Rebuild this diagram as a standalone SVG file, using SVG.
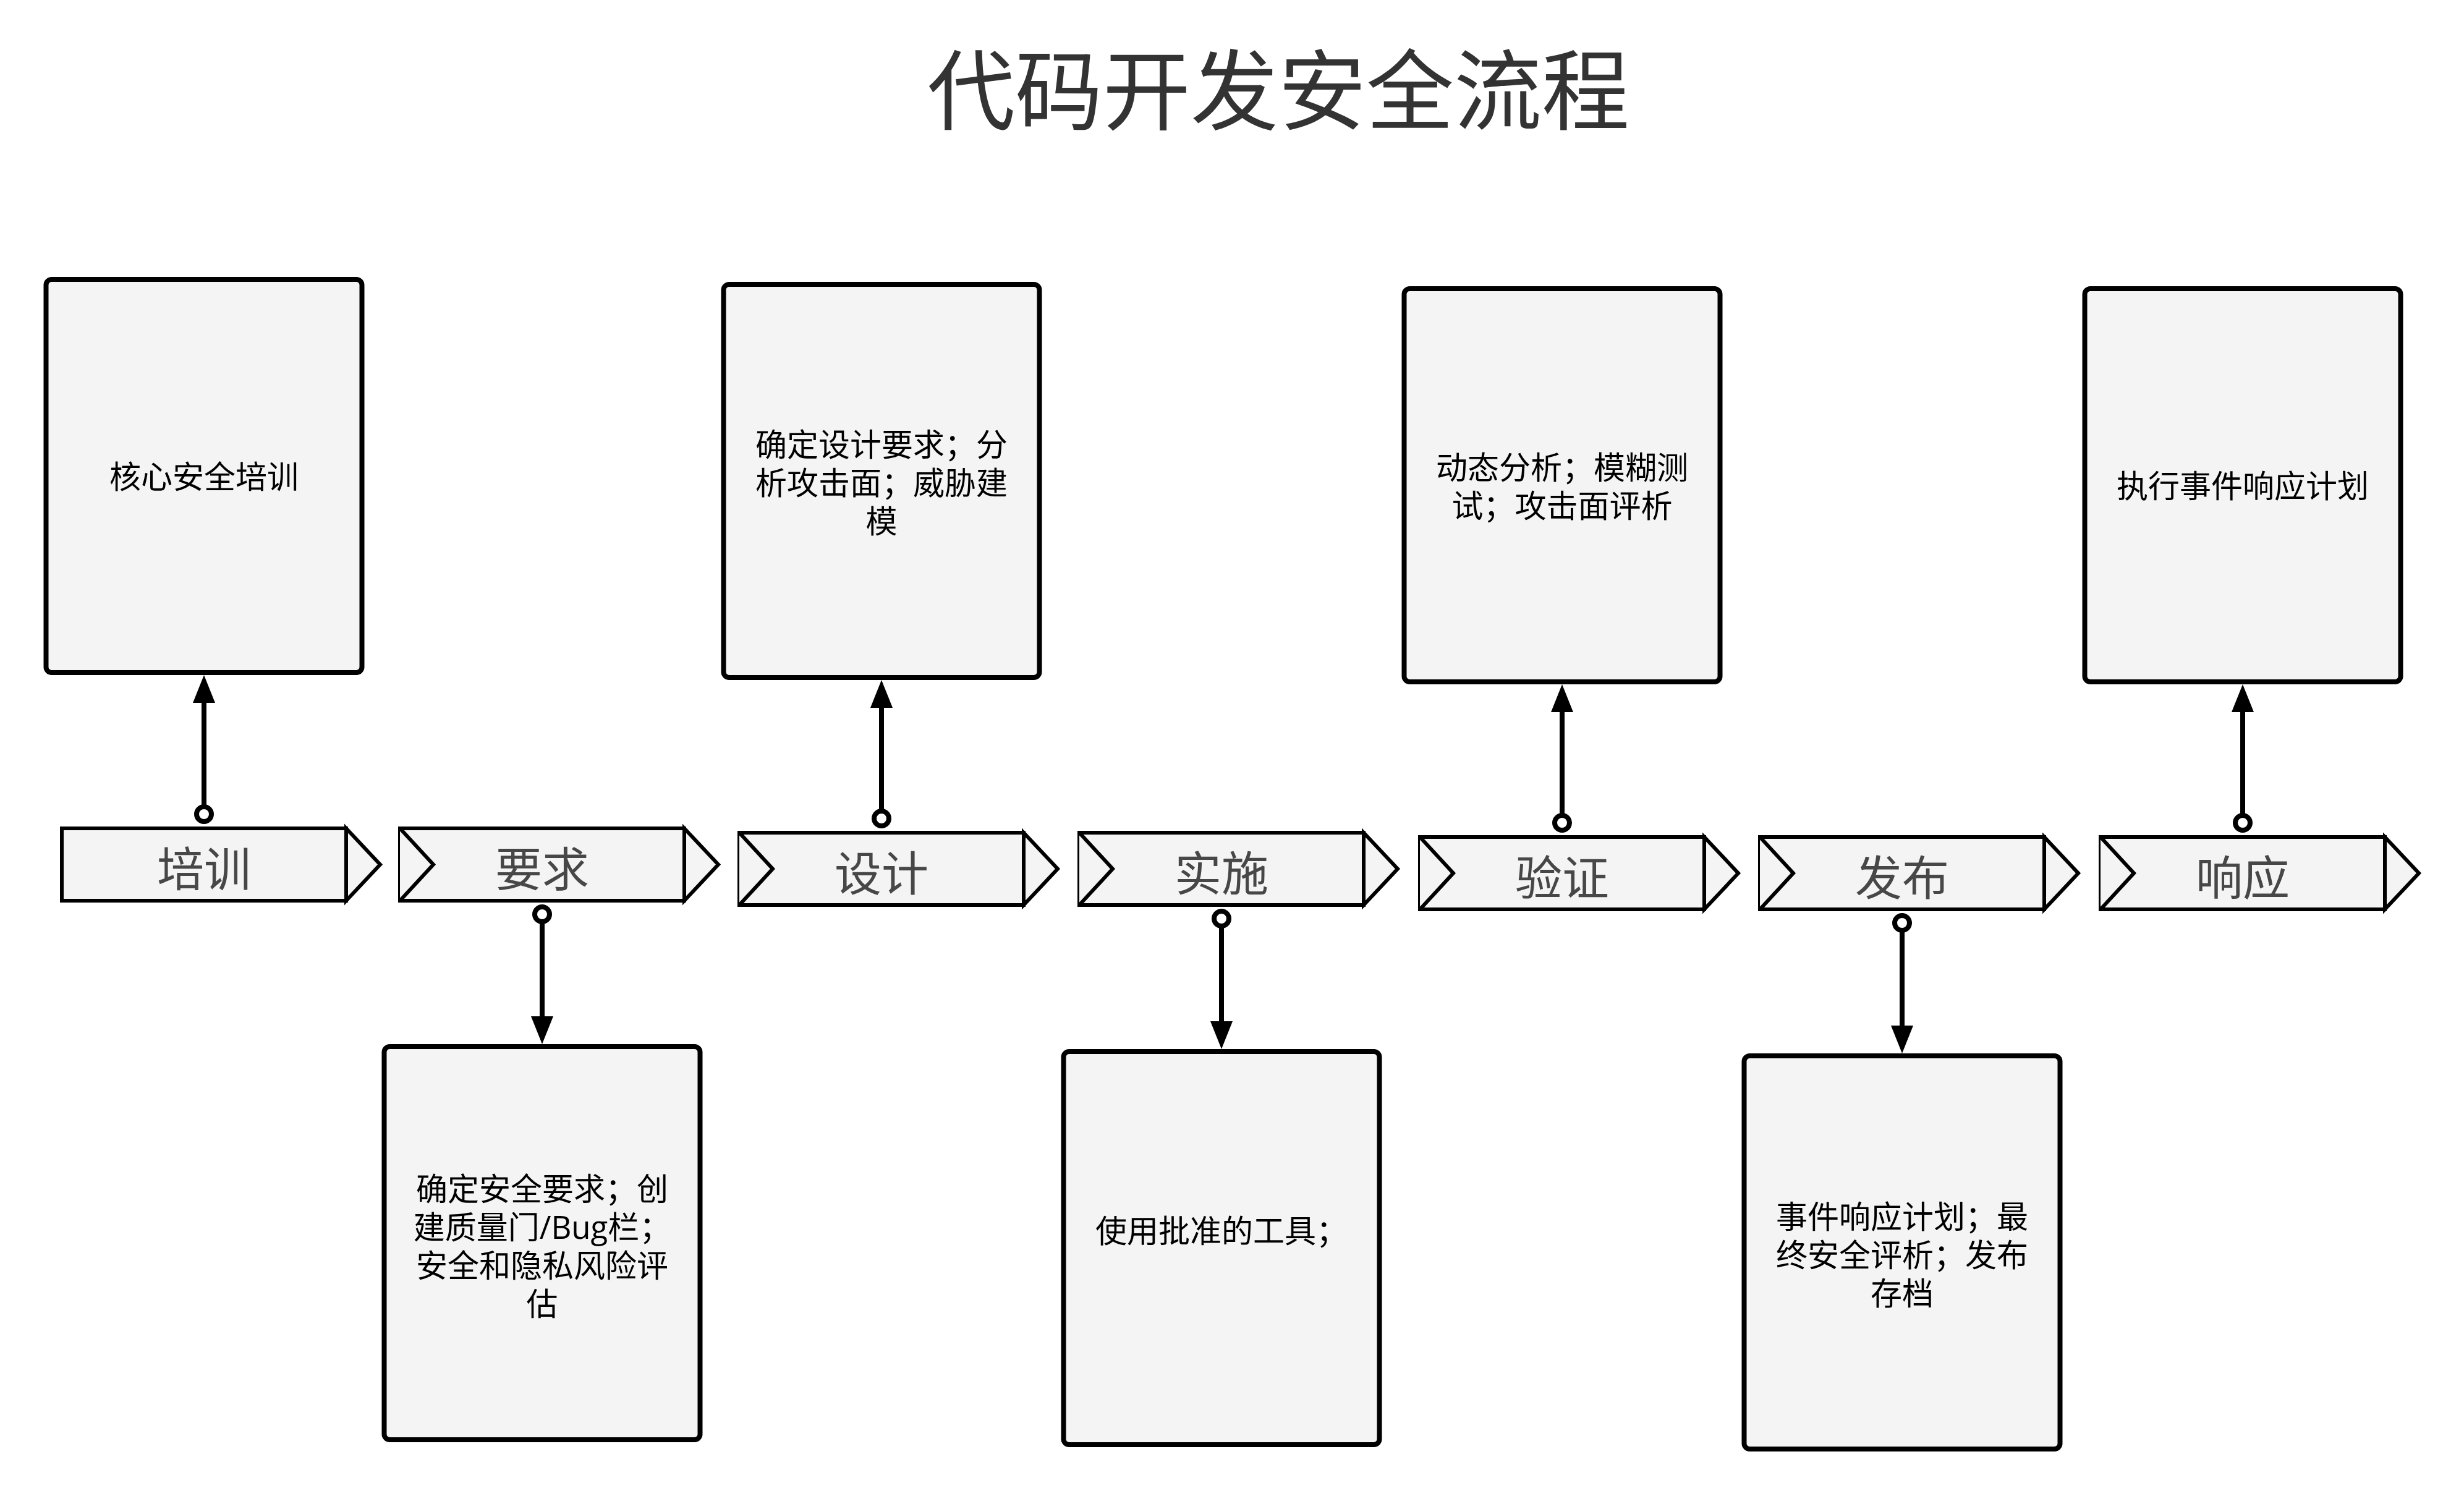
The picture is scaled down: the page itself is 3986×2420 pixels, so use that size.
<svg xmlns="http://www.w3.org/2000/svg" width="3986" height="2420" viewBox="0 0 3986 2420">
<style>
.title{font-family:"Noto Sans CJK SC","Noto Sans",sans-serif;font-size:142px;fill:#333333;text-anchor:middle;dominant-baseline:central}
.box{fill:#f4f4f4;stroke:#000;stroke-width:8}
.btxt{font-family:"Open Sans","Noto Sans CJK SC",sans-serif;font-size:51px;fill:#000;text-anchor:middle;dominant-baseline:central}
.chev{fill:#f4f4f4;stroke:#000;stroke-width:6;stroke-linejoin:miter}
.ctxt{font-family:"Noto Sans CJK SC","Noto Sans",sans-serif;font-size:76px;font-weight:400;fill:#474747;text-anchor:middle;dominant-baseline:central}
.conn{stroke:#000;stroke-width:8;fill:none;marker-start:url(#dot);marker-end:url(#arrow)}
</style>
<defs>
<marker id="arrow" viewBox="0 0 45 36" refX="0" refY="18" markerWidth="45" markerHeight="36" markerUnits="userSpaceOnUse" orient="auto"><path d="M0,0 L45,18 L0,36 Z" fill="#000"/></marker>
<marker id="dot" viewBox="-18 -18 36 36" refX="0" refY="0" markerWidth="36" markerHeight="36" markerUnits="userSpaceOnUse" orient="auto"><circle r="12" fill="#fff" stroke="#000" stroke-width="8"/></marker>
</defs>
<rect width="3986" height="2420" fill="#fff"/>
<text class="title" x="2068" y="137">代码开发安全流程</text>

<g id="connectors">
<path class="conn" d="M330,1317 V1137"/>
<path class="conn" d="M877,1479 V1644"/>
<path class="conn" d="M1426,1324 V1145"/>
<path class="conn" d="M1976,1486 V1652"/>
<path class="conn" d="M2527,1331 V1152"/>
<path class="conn" d="M3077,1493 V1659"/>
<path class="conn" d="M3628,1331 V1152"/>
</g>

<g id="step-peixun">
<rect class="chev" x="100" y="1340" width="460" height="117"/>
<path class="chev" d="M560,1340 L615,1398.5 L560,1457 Z"/>
<text class="ctxt" x="330" y="1401">培训</text>
</g>
<g id="step-yaoqiu">
<rect class="chev" x="647" y="1340" width="460" height="117"/>
<path class="chev" d="M647,1340 L701,1398.5 L647,1457"/>
<path class="chev" d="M1107,1340 L1162,1398.5 L1107,1457 Z"/>
<text class="ctxt" x="877" y="1401">要求</text>
</g>
<g id="step-sheji">
<rect class="chev" x="1196" y="1347" width="460" height="117"/>
<path class="chev" d="M1196,1347 L1250,1405.5 L1196,1464"/>
<path class="chev" d="M1656,1347 L1711,1405.5 L1656,1464 Z"/>
<text class="ctxt" x="1426" y="1408">设计</text>
</g>
<g id="step-shishi">
<rect class="chev" x="1746" y="1347" width="460" height="117"/>
<path class="chev" d="M1746,1347 L1800,1405.5 L1746,1464"/>
<path class="chev" d="M2206,1347 L2261,1405.5 L2206,1464 Z"/>
<text class="ctxt" x="1976" y="1408">实施</text>
</g>
<g id="step-yanzheng">
<rect class="chev" x="2297" y="1354" width="460" height="117"/>
<path class="chev" d="M2297,1354 L2351,1412.5 L2297,1471"/>
<path class="chev" d="M2757,1354 L2812,1412.5 L2757,1471 Z"/>
<text class="ctxt" x="2527" y="1415">验证</text>
</g>
<g id="step-fabu">
<rect class="chev" x="2847" y="1354" width="460" height="117"/>
<path class="chev" d="M2847,1354 L2901,1412.5 L2847,1471"/>
<path class="chev" d="M3307,1354 L3362,1412.5 L3307,1471 Z"/>
<text class="ctxt" x="3077" y="1415">发布</text>
</g>
<g id="step-xiangying">
<rect class="chev" x="3398" y="1354" width="460" height="117"/>
<path class="chev" d="M3398,1354 L3452,1412.5 L3398,1471"/>
<path class="chev" d="M3858,1354 L3913,1412.5 L3858,1471 Z"/>
<text class="ctxt" x="3628" y="1415">响应</text>
</g>

<g id="box-peixun">
<rect class="box" x="74.5" y="452" width="511" height="636" rx="9"/>
<text class="btxt" x="330" y="770">核心安全培训</text>
</g>
<g id="box-yaoqiu">
<rect class="box" x="621.5" y="1693" width="511" height="636" rx="9"/>
<text class="btxt" x="877" y="1922">确定安全要求；创</text>
<text class="btxt" x="877" y="1984">建质量门/Bug栏；</text>
<text class="btxt" x="877" y="2046">安全和隐私风险评</text>
<text class="btxt" x="877" y="2108">估</text>
</g>
<g id="box-sheji">
<rect class="box" x="1170.5" y="460" width="511" height="636" rx="9"/>
<text class="btxt" x="1426" y="718">确定设计要求；分</text>
<text class="btxt" x="1426" y="780">析攻击面；威胁建</text>
<text class="btxt" x="1426" y="842">模</text>
</g>
<g id="box-shishi">
<rect class="box" x="1720.5" y="1701" width="511" height="636" rx="9"/>
<text class="btxt" x="1976" y="1990">使用批准的工具；</text>
</g>
<g id="box-yanzheng">
<rect class="box" x="2271.5" y="467" width="511" height="636" rx="9"/>
<text class="btxt" x="2527" y="755">动态分析；模糊测</text>
<text class="btxt" x="2527" y="817">试；攻击面评析</text>
</g>
<g id="box-fabu">
<rect class="box" x="2821.5" y="1708" width="511" height="636" rx="9"/>
<text class="btxt" x="3077" y="1967">事件响应计划；最</text>
<text class="btxt" x="3077" y="2029">终安全评析；发布</text>
<text class="btxt" x="3077" y="2091">存档</text>
</g>
<g id="box-xiangying">
<rect class="box" x="3372.5" y="467" width="511" height="636" rx="9"/>
<text class="btxt" x="3628" y="785">执行事件响应计划</text>
</g>
</svg>
